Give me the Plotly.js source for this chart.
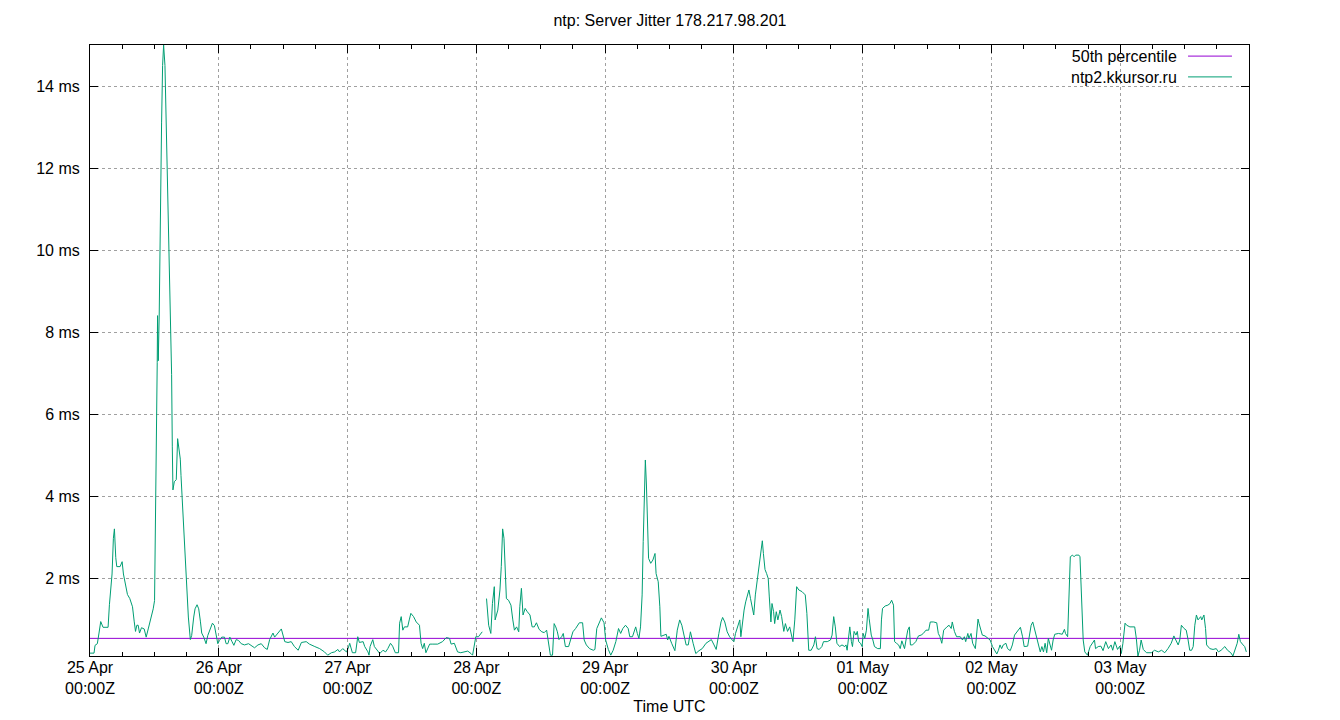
<!DOCTYPE html>
<html>
<head>
<meta charset="utf-8">
<script src="https://cdn.plot.ly/plotly-3.0.1.min.js"></script>
<style>
  html, body { margin: 0; padding: 0; background: #ffffff; }
  #chart { width: 1340px; height: 720px; }
</style>
</head>
<body>
<div id="chart"></div>
<script>
// ---- data (hours since 25 Apr 00:00Z, jitter in ms) ----
const startDay = Date.UTC(2024, 3, 25);
const endDay = Date.UTC(2024, 4, 4);
const dayLabels = ['25 Apr', '26 Apr', '27 Apr', '28 Apr', '29 Apr', '30 Apr', '01 May', '02 May', '03 May'];
const hours = [
  0, 0.75, 0.94, 1.37, 1.68, 2.0, 2.43, 3.37, 3.62, 3.87, 4.11, 4.36, 4.55, 4.8, 4.99, 5.61, 5.99, 6.23, 6.61, 6.98,
  7.42, 7.92, 8.23, 8.48, 8.73, 8.98, 9.23, 9.6, 10.1, 10.47, 10.85, 11.35, 11.78, 12.03, 12.16, 12.34, 12.53, 12.59, 12.72, 12.9,
  13.09, 13.34, 13.53, 13.72, 13.97, 14.21, 14.46, 14.78, 15.02, 15.21, 15.34, 15.46, 15.71, 16.08, 16.33, 16.58, 16.83, 16.96, 17.14, 17.39,
  17.58, 17.83, 18.02, 18.33, 18.7, 18.95, 19.33, 19.58, 19.95, 20.26, 20.57, 20.82, 21.2, 21.63, 21.95, 22.38, 22.82, 23.19, 23.57, 23.82,
  24.13, 24.56, 25.06, 25.37, 25.69, 26.06, 26.43, 26.81, 27.24, 27.68, 28.18, 28.8, 29.55, 30.05, 30.67, 31.3, 31.92, 32.54, 33.04, 33.48,
  34.1, 34.41, 35.04, 35.66, 36.3, 36.9, 37.5, 38.1, 38.8, 39.4, 40.3, 40.9, 41.9, 42.8, 43.7, 44.3, 45.0, 45.6, 46.2, 46.5,
  47.1, 47.8, 48.1, 48.4, 48.9, 49.5, 49.9, 50.2, 50.9, 51.2, 51.8, 52.0, 52.2, 52.7, 53.0, 53.3, 54.0, 54.6, 55.1, 55.5,
  56.0, 56.4, 56.9, 57.5, 57.7, 58.0, 58.3, 58.6, 59.2, 59.5, 59.8, 60.3, 60.8, 61.4, 61.7, 62.0, 62.3, 62.6, 63.3, 63.9,
  64.8, 65.7, 66.4, 67.0, 67.3, 67.9, 68.5, 69.1, 69.8, 70.4, 71.0, 71.3, 71.9, 72.4, 73.1, 73.5, 73.9, 74.3, 74.7, 75.0,
  75.35, 75.5, 76.0, 76.4, 76.65, 76.9, 77.15, 77.4, 77.6, 78.0, 78.45, 78.8, 79.1, 79.5, 79.9, 80.1, 80.4, 80.7, 81.1, 81.5,
  82.0, 82.4, 82.8, 83.2, 83.7, 84.2, 84.65, 85.1, 85.45, 85.8, 86.2, 86.5, 86.8, 87.1, 87.4, 87.9, 88.2, 88.6, 89.2, 89.6,
  90.0, 90.5, 91.2, 91.8, 92.1, 92.5, 93.1, 93.8, 94.1, 94.45, 94.9, 95.3, 95.8, 96.1, 96.6, 97.05, 97.5, 98.0, 98.5, 98.9,
  99.3, 99.8, 100.3, 100.6, 101.1, 101.7, 102.0, 102.3, 102.6, 102.9, 103.1, 103.4, 103.5, 103.7, 103.9, 104.1, 104.5, 104.9, 105.3, 105.5,
  105.9, 106.2, 106.4, 107.0, 107.4, 107.65, 107.9, 108.4, 108.8, 109.0, 109.45, 109.9, 110.3, 110.7, 111.1, 111.5, 111.9, 112.4, 112.9, 113.5,
  114.1, 114.8, 115.3, 115.8, 116.3, 116.7, 117.2, 117.6, 117.9, 118.3, 118.75, 119.2, 119.7, 120.0, 120.3, 120.8, 121.1, 121.3, 121.6, 121.9,
  122.2, 122.5, 122.8, 123.1, 123.4, 123.7, 124.0, 124.3, 124.65, 124.95, 125.3, 125.5, 125.8, 126.1, 126.4, 126.6, 126.9, 127.1, 127.4, 127.6,
  127.9, 128.2, 128.6, 128.9, 129.3, 129.6, 130.0, 130.4, 130.7, 131.0, 131.35, 131.7, 132.1, 132.7, 133.3, 133.6, 133.95, 134.4, 134.9, 135.2,
  135.5, 135.9, 136.4, 136.7, 137.4, 138.0, 138.3, 138.6, 138.9, 139.2, 139.7, 140.15, 140.65, 140.9, 141.1, 141.4, 141.6, 141.9, 142.1, 142.4,
  142.75, 143.0, 143.25, 143.6, 143.9, 144.1, 144.4, 144.7, 145.0, 145.2, 145.6, 145.9, 146.2, 146.8, 147.3, 147.5, 147.7, 148.2, 148.7, 149.1,
  149.4, 149.75, 149.95, 150.3, 150.7, 151.0, 151.3, 151.8, 152.2, 152.4, 152.7, 152.9, 153.3, 153.9, 154.4, 154.9, 155.3, 155.8, 156.3, 156.6,
  157.2, 157.8, 158.1, 158.4, 158.75, 159.1, 159.7, 160.1, 160.5, 160.7, 161.1, 161.5, 162.2, 162.6, 162.95, 163.2, 163.6, 163.8, 164.2, 164.5,
  165.0, 165.3, 165.5, 165.7, 166.0, 166.3, 166.8, 167.3, 167.75, 168.2, 168.7, 169.0, 169.3, 169.6, 169.9, 170.2, 170.7, 171.0, 171.5, 171.9,
  172.3, 172.7, 173.1, 173.4, 173.8, 174.1, 174.75, 175.0, 175.4, 175.7, 176.1, 176.4, 176.7, 177.1, 177.4, 177.7, 178.0, 178.3, 178.6, 178.9,
  179.2, 179.5, 179.8, 180.5, 181.2, 181.6, 181.8, 182.2, 182.45, 182.7, 183.1, 183.4, 183.7, 184.3, 184.5, 184.8, 185.1, 185.4, 185.9, 186.4,
  186.8, 187.2, 187.4, 187.9, 188.4, 188.8, 189.3, 189.8, 190.3, 190.6, 191.0, 191.5, 191.9, 192.2, 192.5, 192.9, 193.2, 193.8, 194.7, 195.0,
  195.3, 195.6, 195.9, 196.3, 196.9, 197.8, 198.4, 199.1, 199.7, 200.3, 200.9, 201.5, 202.0, 202.4, 202.8, 203.1, 203.4, 203.9, 204.3, 204.6,
  204.95, 205.3, 205.6, 205.9, 206.2, 206.5, 207.0, 207.2, 207.6, 207.9, 208.1, 208.7, 209.3, 209.9, 210.3, 210.8, 211.5, 212.0, 212.6, 213.0,
  213.4, 213.8, 214.1, 214.4, 214.9, 215.2, 215.5
];
const jitter = [
  0.17, 0.17, 0.36, 0.4, 0.66, 0.94, 0.8, 0.8, 1.35, 1.7, 2.1, 2.97, 3.2, 2.5, 2.28, 2.28, 2.4, 2.1, 1.8, 1.6,
  1.5, 1.3, 0.95, 0.7, 0.85, 0.85, 0.66, 0.79, 0.76, 0.56, 0.76, 1.0, 1.25, 1.45, 2.73, 5.0, 7.26, 8.4, 7.3, 8.44,
  10.8, 13.1, 14.5, 15.0, 14.5, 13.1, 11.4, 9.7, 8.2, 6.96, 5.2, 4.15, 4.35, 4.4, 5.4, 5.2, 4.9, 4.5, 4.0, 3.5,
  2.9, 2.1, 1.6, 1.05, 0.5, 0.6, 1.05, 1.25, 1.35, 1.25, 0.95, 0.66, 0.56, 0.4, 0.6, 0.75, 0.9, 0.84, 0.56, 0.4,
  0.48, 0.56, 0.56, 0.4, 0.4, 0.56, 0.46, 0.36, 0.5, 0.48, 0.4, 0.37, 0.4, 0.36, 0.3, 0.37, 0.4, 0.3, 0.26, 0.5,
  0.66, 0.56, 0.66, 0.76, 0.45, 0.43, 0.45, 0.33, 0.24, 0.43, 0.45, 0.39, 0.33, 0.28, 0.2, 0.12, 0.18, 0.2, 0.26, 0.2,
  0.28, 0.2, 0.28, 0.41, 0.18, 0.18, 0.57, 0.43, 0.45, 0.33, 0.2, 0.12, 0.33, 0.5, 0.33, 0.28, 0.16, 0.24, 0.2, 0.28,
  0.41, 0.34, 0.18, 0.18, 0.9, 1.06, 0.73, 0.81, 0.81, 0.98, 1.14, 1.06, 0.93, 0.85, 0.41, 0.28, 0.41, 0.18, 0.39, 0.39,
  0.39, 0.45, 0.55, 0.53, 0.39, 0.41, 0.2, 0.18, 0.2, 0.22, 0.16, 0.12, 0.57, 0.57, 0.69, null, 1.5, 0.85, 0.65, 1.38,
  1.79, 0.98, 1.22, 1.71, 2.28, 3.2, 2.97, 2.11, 1.5, 1.46, 1.34, 0.98, 0.73, 0.81, 0.69, 1.3, 1.75, 1.1, 1.26, 1.18,
  1.1, 0.81, 0.81, 0.91, 0.75, 0.69, 0.67, 0.73, 0.41, 0.12, 0.12, 0.89, 0.81, 0.69, 0.5, 0.57, 0.65, 0.33, 0.33, 0.53,
  0.69, 0.77, 0.91, 0.91, 0.49, 0.37, 0.28, 0.24, 0.26, 0.77, 0.93, 1.03, 0.91, 0.49, 0.26, 0.12, 0.24, 0.45, 0.77, 0.65,
  0.77, 0.85, 0.77, 0.57, 0.57, 0.81, 0.65, 0.53, 0.81, 1.59, 2.89, 4.19, 4.88, 4.27, 3.09, 2.48, 2.36, 2.44, 2.6, 2.11,
  1.91, 1.3, 0.58, 0.61, 0.63, 0.49, 0.58, 0.41, 0.28, 0.23, 0.73, 0.98, 0.85, 0.57, 0.37, 0.37, 0.69, 0.41, 0.16, 0.23,
  0.28, 0.41, 0.45, 0.5, 0.37, 0.26, 0.65, 0.93, 1.04, 0.93, 0.69, 0.57, 0.49, 0.45, 0.65, 0.85, 0.98, 0.57, 0.98, 1.22,
  1.42, 1.59, 1.71, 1.5, 1.26, 1.1, 1.59, 1.87, 2.28, 2.6, 2.91, 2.6, 2.21, 2.11, 1.99, 1.54, 0.93, 1.38, 1.18, 0.89,
  1.18, 0.98, 1.22, 1.06, 0.7, 0.89, 0.7, 0.81, 0.61, 0.45, 0.98, 1.79, 1.71, 1.67, 1.59, 1.14, 0.24, 0.24, 0.37, 0.57,
  0.28, 0.26, 0.33, 0.45, 0.45, 0.49, 0.61, 1.06, 0.81, 0.41, 0.33, 0.37, 0.33, 0.37, 0.24, 0.53, 0.81, 0.45, 0.33, 0.7,
  0.61, 0.7, 0.45, 0.41, 0.33, 0.65, 0.53, 0.73, 1.26, 1.02, 0.61, 0.49, 0.33, 0.28, 0.28, 0.98, 1.26, 1.32, 1.34, 1.38,
  1.46, 1.34, 0.45, 0.41, 0.37, 0.28, 0.47, 0.28, 0.65, 0.73, 0.81, 0.37, 0.37, 0.45, 0.59, 0.61, 0.65, 0.73, 0.73, 0.93,
  0.93, 0.91, 0.65, 0.57, 0.41, 0.73, 0.81, 0.85, 0.77, 0.93, 0.7, 0.57, 0.57, 0.49, 0.57, 0.45, 0.65, 0.53, 0.65, 0.41,
  0.28, 0.73, 1.0, 0.89, 0.77, 0.61, 0.59, 0.53, 0.49, 0.33, 0.2, 0.15, 0.24, 0.37, 0.28, 0.37, 0.41, 0.28, 0.23, 0.37,
  0.61, 0.69, 0.75, 0.8, 0.57, 0.33, 0.34, 0.57, 0.85, 0.93, 0.73, 0.59, 0.41, 0.2, 0.33, 0.2, 0.41, 0.18, 0.53, 0.37,
  0.24, 0.49, 0.63, 0.65, 0.63, 0.75, 0.65, 0.57, 1.5, 2.52, 2.56, 2.52, 2.56, 2.56, 2.52, 1.38, 0.49, 0.2, 0.12, 0.33,
  0.41, 0.49, 0.28, 0.33, 0.34, 0.23, 0.45, 0.28, 0.37, 0.24, 0.45, 0.26, 0.34, 0.16, 0.41, 0.9, 0.85, 0.81, 0.81, 0.53,
  0.1, 0.24, 0.49, 0.26, 0.18, 0.18, 0.24, 0.2, 0.24, 0.18, 0.28, 0.41, 0.59, 0.49, 0.37, 0.49, 0.85, 0.77, 0.73, 0.53,
  0.24, 0.24, 0.33, 0.85, 1.1, 0.98, 1.06, 0.98, 1.1, 0.77, 0.37, 0.28, 0.26, 0.28, 0.2, 0.24, 0.33, 0.24, 0.18, 0.1,
  0.24, 0.41, 0.63, 0.45, 0.37, 0.33, 0.2
];
const median = 0.53;
const seriesName = 'ntp2.kkursor.ru';
const medianName = '50th percentile';
const yTicks = [2, 4, 6, 8, 10, 12, 14];

// ---- helpers ----
function toStr(ms) { return new Date(ms).toISOString().slice(0, 19).replace('T', ' '); }
const xs = hours.map(h => toStr(startDay + h * 3600000));
const dayVals = dayLabels.map((_, i) => toStr(startDay + i * 86400000));

const FONT = 'Liberation Sans, Arial, sans-serif';
const FS = 16;
const traces = [
  { x: [toStr(startDay), toStr(endDay)], y: [median, median], mode: 'lines', name: medianName,
    line: { color: '#9400d3', width: 1 }, showlegend: false, hoverinfo: 'skip' },
  { x: xs, y: jitter, mode: 'lines', name: seriesName, connectgaps: false,
    line: { color: '#009e73', width: 1 }, showlegend: false }
];

// legend drawn gnuplot-style: right-aligned text block, samples on the right
const legendNames = [medianName, seriesName];
const legendColors = ['#9400d3', '#009e73'];
const legendCenterY = (656 - 66.5) / 611;     // paper fraction
const legendLineStep = (FS * 1.3) / 611;       // plotly line spacing in paper units
const legendRowY = [legendCenterY + legendLineStep / 2, legendCenterY - legendLineStep / 2];

const layout = {
  width: 1340, height: 720,
  margin: { l: 90, r: 91, t: 45, b: 64 },
  paper_bgcolor: '#ffffff', plot_bgcolor: '#ffffff',
  font: { family: FONT, size: FS, color: '#000000' },
  showlegend: false,
  title: { text: 'ntp: Server Jitter 178.217.98.201', x: 0.5, xref: 'container', xanchor: 'center',
           y: 1 - 20 / 720, yref: 'container', yanchor: 'middle', font: { family: FONT, size: FS, color: '#000' } },
  xaxis: {
    type: 'date', range: [toStr(startDay), toStr(endDay)],
    tickmode: 'array', tickvals: dayVals, ticktext: dayLabels.map(d => d + '<br>00:00Z'),
    ticks: 'inside', ticklen: 8, tickcolor: '#000', tickwidth: 1, ticklabelstandoff: -3,
    minor: { tickmode: 'linear', dtick: 6 * 3600000, tick0: toStr(startDay), ticks: 'inside', ticklen: 4, tickcolor: '#000', showgrid: false },
    showline: true, linecolor: '#000', linewidth: 1, mirror: 'ticks',
    showgrid: true, gridcolor: '#a0a0a0', gridwidth: 1, griddash: '3px,3px',
    zeroline: false,
    tickfont: { family: FONT, size: FS, color: '#000' },
    title: { text: 'Time UTC', standoff: 4, font: { family: FONT, size: FS, color: '#000' } }
  },
  yaxis: {
    range: [0.1, 15], tickmode: 'array', tickvals: yTicks, ticktext: yTicks.map(v => v + ' ms'),
    ticks: 'inside', ticklen: 8, tickcolor: '#000', tickwidth: 1, ticklabelstandoff: 6,
    showline: true, linecolor: '#000', linewidth: 1, mirror: 'ticks',
    showgrid: true, gridcolor: '#a0a0a0', gridwidth: 1, griddash: '3px,3px',
    zeroline: false,
    tickfont: { family: FONT, size: FS, color: '#000' }
  },
  annotations: [{
    text: legendNames.join('<br>'), xref: 'paper', yref: 'paper', x: 0.9396, y: legendCenterY,
    xanchor: 'right', yanchor: 'middle', align: 'right', showarrow: false,
    font: { family: FONT, size: FS, color: '#000' }
  }],
  shapes: legendColors.map((c, i) => ({
    type: 'line', xref: 'paper', yref: 'paper', x0: 0.9474, x1: 0.9853, y0: legendRowY[i], y1: legendRowY[i],
    line: { color: c, width: 1 }
  }))
};

Plotly.newPlot('chart', traces, layout, { staticPlot: true, displayModeBar: false });
</script>
</body>
</html>
